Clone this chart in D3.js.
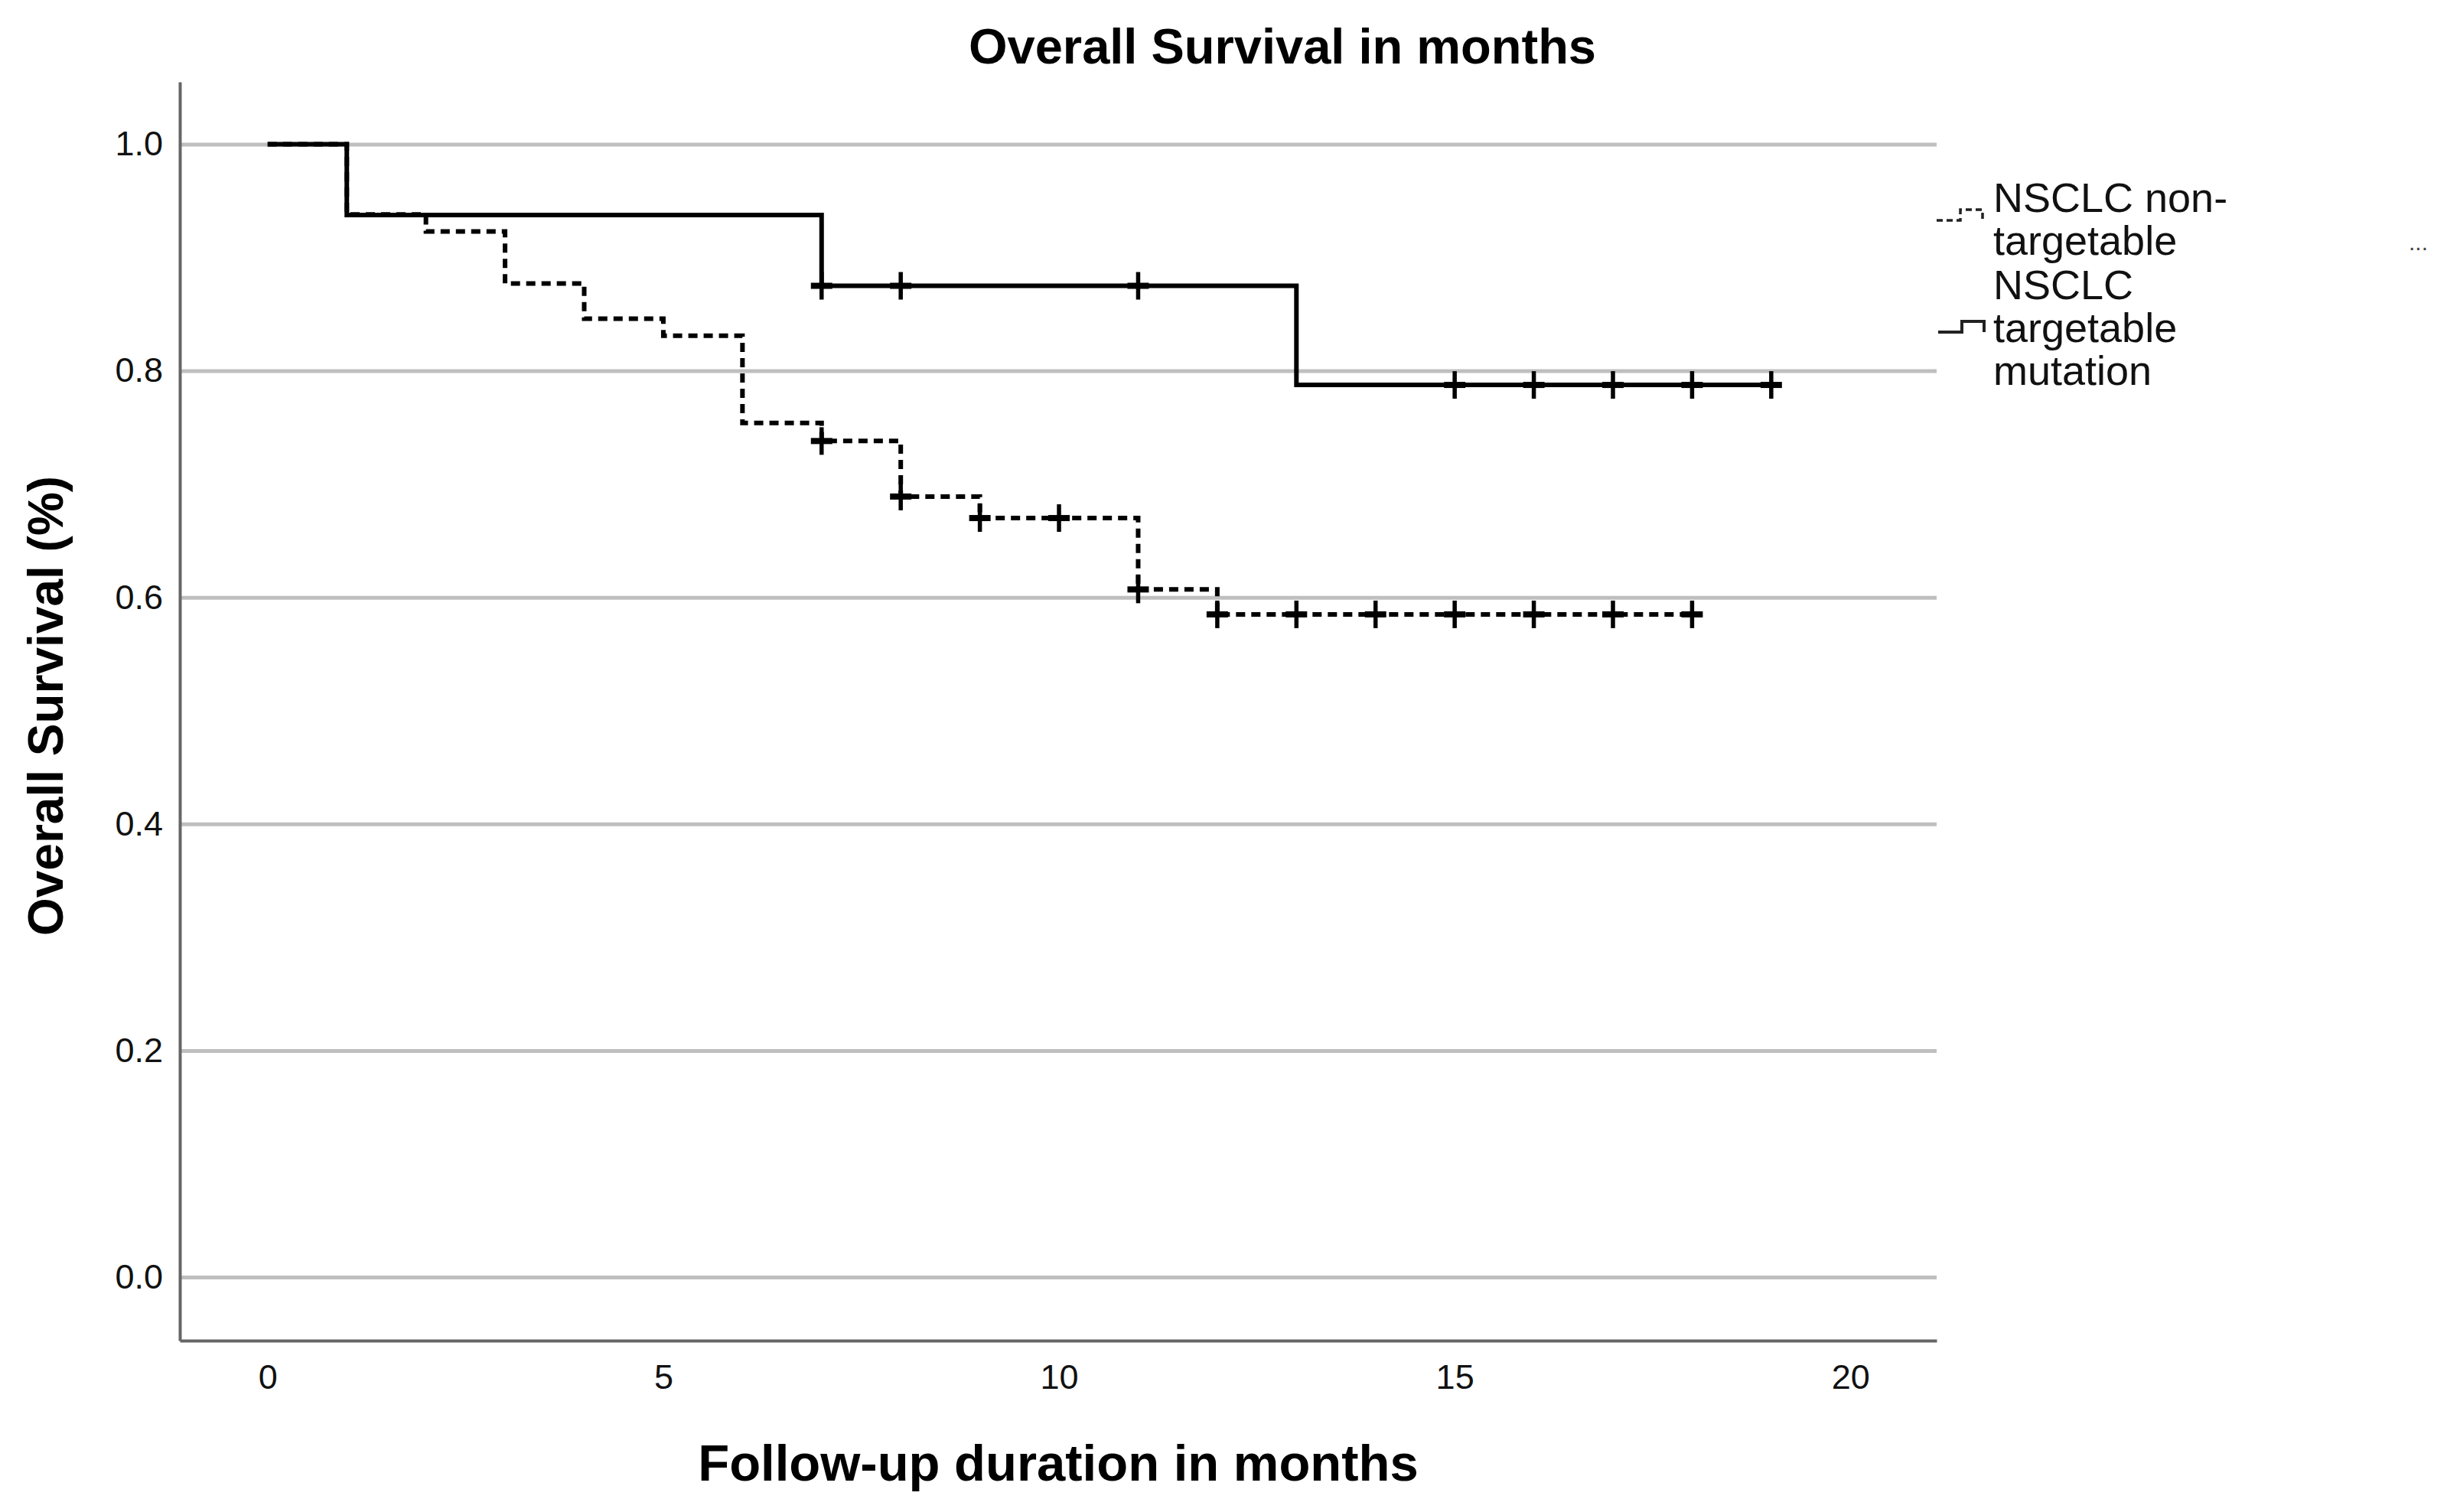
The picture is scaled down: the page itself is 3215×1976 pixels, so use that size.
<!DOCTYPE html>
<html>
<head>
<meta charset="utf-8">
<script src="https://cdn.jsdelivr.net/npm/d3@7"></script>
<style>
  html, body { margin: 0; padding: 0; background: #fff; }
  svg { display: block; font-family: "Liberation Sans", Arial, sans-serif; }
</style>
</head>
<body>
<svg id="chart" width="3215" height="1976"></svg>
<script>
// values
var monthsTarget = [0, 1, 7, 13, 19];
var survTarget = [1.0, 0.9375, 0.875, 0.7875, 0.7875];
var censorTarget = [7, 8, 11, 15, 16, 17, 18, 19];

var monthsNonTarget = [0, 1, 2, 3, 4, 5, 6, 7, 8, 9, 11, 12, 18];
var survNonTarget = [1.0, 0.938, 0.923, 0.877, 0.846, 0.831, 0.754, 0.738, 0.689, 0.670, 0.607, 0.585, 0.585];
var censorNonTarget = [7, 8, 9, 10, 11, 12, 13, 14, 15, 16, 17, 18];

var xTicks = [0, 5, 10, 15, 20];
var yTicks = [0.0, 0.2, 0.4, 0.6, 0.8, 1.0];

var legendNonTarget = ["NSCLC non-", "targetable"];
var legendTarget = ["NSCLC", "targetable", "mutation"];

var plotLeft = 235, plotRight = 2531, plotTop = 107, plotBottom = 1752;

var svg = d3.select("#chart");

var x = d3.scaleLinear().domain([-1.11, 21.09]).range([plotLeft, plotRight]);
var y = d3.scaleLinear().domain([-0.056, 1.055]).range([plotBottom, plotTop]);

// y axis + gridlines
var gy = svg.append("g")
    .attr("transform", "translate(" + plotLeft + ",0)")
    .call(d3.axisLeft(y)
        .tickValues(yTicks)
        .tickFormat(d3.format(".1f"))
        .tickSize(-(plotRight - plotLeft))
        .tickSizeOuter(0)
        .tickPadding(22));
gy.selectAll(".tick line").attr("stroke", "#bfbfbf").attr("stroke-width", 5);
gy.selectAll(".tick text").attr("font-size", 45).attr("fill", "#111");
gy.select(".domain").attr("stroke", "#666").attr("stroke-width", 4).raise();

// x axis
var gx = svg.append("g")
    .attr("transform", "translate(0," + plotBottom + ")")
    .call(d3.axisBottom(x)
        .tickValues(xTicks)
        .tickSize(0)
        .tickPadding(31));
gx.selectAll(".tick text").attr("font-size", 45).attr("fill", "#111");
gx.select(".domain").attr("stroke", "#666").attr("stroke-width", 4);

var line = d3.line()
    .x(function(d){ return x(d[0]); })
    .y(function(d){ return y(d[1]); })
    .curve(d3.curveStepAfter);

function survAt(months, surv, t){
    var i = d3.bisectRight(months, t) - 1;
    return surv[Math.max(i, 0)];
}

function drawCensors(months, surv, times){
    var g = svg.append("g");
    times.forEach(function(t){
        var cx = x(t), cy = y(survAt(months, surv, t));
        g.append("line")
            .attr("x1", cx).attr("x2", cx)
            .attr("y1", cy - 18).attr("y2", cy + 18)
            .attr("stroke", "#000").attr("stroke-width", 5.5);
        g.append("line")
            .attr("x1", cx - 14).attr("x2", cx + 14)
            .attr("y1", cy).attr("y2", cy)
            .attr("stroke", "#000").attr("stroke-width", 8);
    });
}

// targetable mutation (solid)
svg.append("path")
    .attr("d", line(d3.zip(monthsTarget, survTarget)))
    .attr("fill", "none")
    .attr("stroke", "#000")
    .attr("stroke-width", 6);
drawCensors(monthsTarget, survTarget, censorTarget);

// non-targetable (dashed)
svg.append("path")
    .attr("d", line(d3.zip(monthsNonTarget, survNonTarget)))
    .attr("fill", "none")
    .attr("stroke", "#000")
    .attr("stroke-width", 6)
    .attr("stroke-dasharray", "12,8");
drawCensors(monthsNonTarget, survNonTarget, censorNonTarget);

// titles
svg.append("text")
    .attr("x", 1676).attr("y", 83)
    .attr("text-anchor", "middle")
    .attr("font-size", 65).attr("font-weight", "bold")
    .text("Overall Survival in months");

svg.append("text")
    .attr("x", (plotLeft + plotRight) / 2).attr("y", 1935)
    .attr("text-anchor", "middle")
    .attr("font-size", 67).attr("font-weight", "bold")
    .text("Follow-up duration in months");

svg.append("text")
    .attr("transform", "translate(82,1223) rotate(-90)")
    .attr("text-anchor", "start")
    .attr("font-size", 64).attr("font-weight", "bold")
    .text("Overall Survival (%)");

// legend
function stepSymbol(x0, y0){
    return "M" + x0 + "," + (y0 + 14) + "H" + (x0 + 31) + "V" + y0 + "H" + (x0 + 60) + "V" + (y0 + 14);
}

svg.append("path")
    .attr("d", stepSymbol(2531, 274))
    .attr("fill", "none").attr("stroke", "#222")
    .attr("stroke-width", 3.5).attr("stroke-dasharray", "8,5");
svg.append("path")
    .attr("d", stepSymbol(2533, 420))
    .attr("fill", "none").attr("stroke", "#222")
    .attr("stroke-width", 4);

function legendText(lines, y0){
    var t = svg.append("text")
        .attr("x", 2605).attr("y", y0)
        .attr("font-size", 54).attr("fill", "#111");
    lines.forEach(function(s, i){
        t.append("tspan").attr("x", 2605).attr("dy", i === 0 ? 0 : 56).text(s);
    });
}
legendText(legendNonTarget, 277);
legendText(legendTarget, 391);

svg.append("text")
    .attr("x", 3148).attr("y", 327)
    .attr("font-size", 30).attr("fill", "#444")
    .text("...");
</script>
</body>
</html>
